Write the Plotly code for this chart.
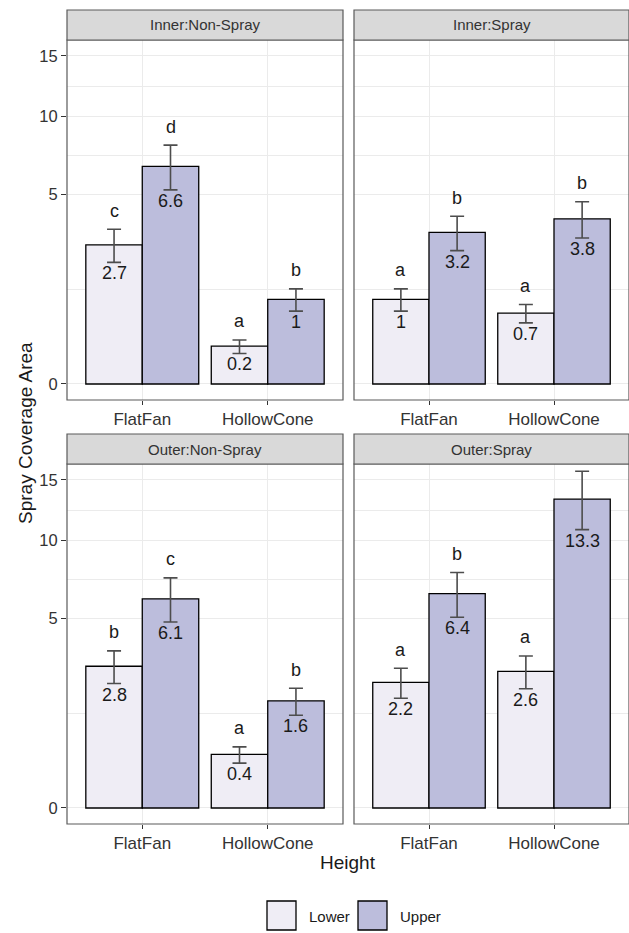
import numpy as np
import plotly.graph_objects as go

# Facets, nozzle types and heights
panels = ["Inner:Non-Spray", "Inner:Spray", "Outer:Non-Spray", "Outer:Spray"]
nozzles = ["FlatFan", "HollowCone"]
heights = ["Lower", "Upper"]

# Mean spray coverage area per panel, ordered [FlatFan, HollowCone]
mean_lower = [[2.7, 0.2], [1.0, 0.7], [2.8, 0.4], [2.2, 2.6]]
mean_upper = [[6.6, 1.0], [3.2, 3.8], [6.1, 1.6], [6.4, 13.3]]

# Standard errors
se_lower = [[0.64, 0.07], [0.26, 0.18], [0.64, 0.12], [0.52, 0.62]]
se_upper = [[1.35, 0.26], [0.72, 0.83], [1.28, 0.40], [1.33, 2.50]]

# Significance letters
letters_lower = [["c", "a"], ["a", "a"], ["b", "a"], ["a", "a"]]
letters_upper = [["d", "b"], ["b", "b"], ["c", "b"], ["b", "c"]]

# Y axis breaks (square-root scale)
y_breaks = [0, 5, 10, 15]

fill_colors = {"Lower": "#efedf5", "Upper": "#bcbddc"}

W, H = 629, 933
FONT = "Liberation Sans, Arial, Helvetica, sans-serif"

# sqrt-transformed axis range
Y_MIN, Y_MAX = -0.189, 4.061
PANEL_PX = 360

# panel pixel boxes (left, right, top, bottom)
boxes = [
    (67, 343, 40, 400),
    (354, 630, 40, 400),
    (67, 343, 464, 824),
    (354, 630, 464, 824),
]

fig = go.Figure()

sq_breaks = np.sqrt(y_breaks)
minor_vals = list((sq_breaks[:-1] + sq_breaks[1:]) / 2)

layout_axes = {}
shapes = []
annotations = []

for p, name in enumerate(panels):
    sfx = "" if p == 0 else str(p + 1)
    xa, ya = "x" + sfx, "y" + sfx
    l, r, t, b = boxes[p]
    xdom = [l / W, min(r / W, 1.0)]
    ydom = [1 - b / H, 1 - t / H]
    left_col = p % 2 == 0

    layout_axes["xaxis" + sfx] = dict(
        domain=xdom, anchor=ya, range=[-0.6, 1.6],
        tickmode="array", tickvals=list(range(len(nozzles))), ticktext=nozzles,
        ticks="outside", ticklen=4, tickwidth=1, tickcolor="#333333",
        tickfont=dict(family=FONT, size=17, color="#333333"),
        showgrid=True, gridcolor="#EBEBEB", gridwidth=1.1,
        zeroline=False, showline=False, fixedrange=True,
    )
    layout_axes["yaxis" + sfx] = dict(
        domain=ydom, anchor=xa, range=[Y_MIN, Y_MAX],
        tickmode="array", tickvals=list(sq_breaks), ticktext=[str(v) for v in y_breaks],
        ticks="outside" if left_col else "", ticklen=5, tickwidth=1, tickcolor="#333333",
        showticklabels=left_col,
        tickfont=dict(family=FONT, size=16.5, color="#333333"),
        showgrid=True, gridcolor="#EBEBEB", gridwidth=1.1,
        minor=dict(tickvals=minor_vals, showgrid=True, gridcolor="#EBEBEB",
                   gridwidth=0.6, ticklen=0),
        zeroline=False, showline=False, fixedrange=True,
    )

    groups = [
        ("Lower", mean_lower[p], se_lower[p], letters_lower[p], -0.225),
        ("Upper", mean_upper[p], se_upper[p], letters_upper[p], 0.225),
    ]
    for h, means, ses, letters, off in groups:
        m = np.array(means, dtype=float)
        s = np.array(ses, dtype=float)
        ym = np.sqrt(m)
        plus = np.sqrt(m + s) - ym
        minus = ym - np.sqrt(np.clip(m - s, 0, None))
        fig.add_trace(go.Bar(
            x=list(range(len(nozzles))), y=ym, name=h,
            xaxis=xa, yaxis=ya, showlegend=False,
            marker=dict(color=fill_colors[h], line=dict(color="#000000", width=1.3)),
            error_y=dict(type="data", symmetric=False, array=plus, arrayminus=minus,
                         color="#4d4d4d", thickness=1.6, width=7),
            hoverinfo="skip",
        ))
        for i in range(len(nozzles)):
            # value label just under the lower error bound
            annotations.append(dict(
                xref=xa, yref=ya, x=i + off, y=float(np.sqrt(max(m[i] - s[i], 0))),
                text=f"{m[i]:g}", showarrow=False, yanchor="middle", yshift=-11,
                font=dict(family=FONT, size=18, color="#1a1a1a"),
            ))
            # letter above the upper error bound, clipped to the panel
            y_top = float(np.sqrt(m[i] + s[i]))
            px_center = (y_top - Y_MIN) / (Y_MAX - Y_MIN) * PANEL_PX + 18.5
            if px_center - 6 < PANEL_PX:
                annotations.append(dict(
                    xref=xa, yref=ya, x=i + off, y=y_top,
                    text=letters[i], showarrow=False, yanchor="middle", yshift=18.5,
                    font=dict(family=FONT, size=18, color="#1a1a1a"),
                ))

    # panel border
    shapes.append(dict(type="rect", xref=xa + " domain", yref=ya + " domain",
                       x0=0, x1=1, y0=0, y1=1, line=dict(color="#5a5a5a", width=1.2),
                       fillcolor="rgba(0,0,0,0)", layer="above"))
    # facet strip
    strip_h = 30 / PANEL_PX
    shapes.append(dict(type="rect", xref=xa + " domain", yref=ya + " domain",
                       x0=0, x1=1, y0=1, y1=1 + strip_h,
                       line=dict(color="#5a5a5a", width=1.2), fillcolor="#D9D9D9"))
    annotations.append(dict(xref=xa + " domain", yref=ya + " domain", x=0.5,
                            y=1 + strip_h / 2, text=name, showarrow=False,
                            xanchor="center", yanchor="middle",
                            font=dict(family=FONT, size=15, color="#333333")))

# axis titles
annotations.append(dict(xref="paper", yref="paper", x=348 / W, y=1 - 862 / H,
                        text="Height", showarrow=False, xanchor="center", yanchor="middle",
                        font=dict(family=FONT, size=19, color="#1a1a1a")))
annotations.append(dict(xref="paper", yref="paper", x=25 / W, y=1 - 433 / H,
                        text="Spray Coverage Area", showarrow=False, textangle=-90,
                        xanchor="center", yanchor="middle",
                        font=dict(family=FONT, size=19, color="#1a1a1a")))

# legend keys
legend_x = [267, 358]
for h, lx in zip(heights, legend_x):
    shapes.append(dict(type="rect", xref="paper", yref="paper",
                       x0=lx / W, x1=(lx + 29) / W, y0=1 - 930 / H, y1=1 - 901 / H,
                       line=dict(color="#000000", width=1.3), fillcolor=fill_colors[h]))
    annotations.append(dict(xref="paper", yref="paper", x=(lx + 40) / W, y=1 - 916 / H,
                            text=h, showarrow=False, xanchor="left", yanchor="middle",
                            font=dict(family=FONT, size=15, color="#1a1a1a")))

fig.update_layout(
    width=W, height=H,
    margin=dict(l=0, r=0, t=0, b=0),
    paper_bgcolor="white", plot_bgcolor="white",
    barmode="group", bargap=0.1, bargroupgap=0,
    showlegend=False,
    shapes=shapes, annotations=annotations,
    **layout_axes,
)

fig.write_html("out.html")
